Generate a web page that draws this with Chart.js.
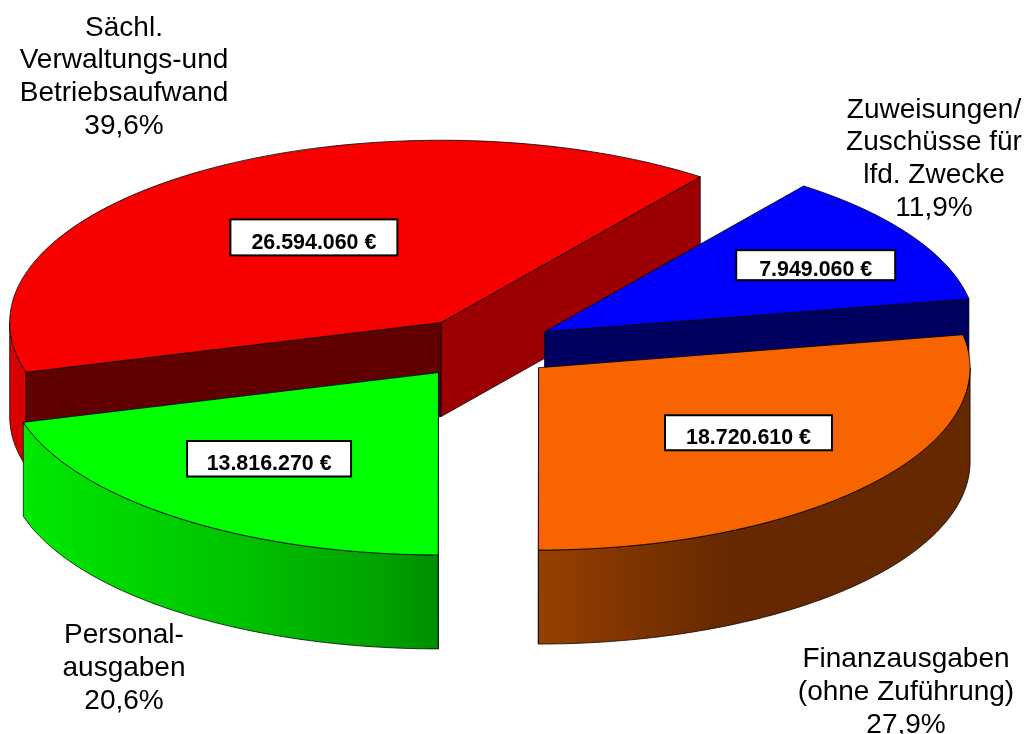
<!DOCTYPE html>
<html lang="de">
<head>
<meta charset="utf-8">
<style>html,body{margin:0;padding:0;background:#fff}canvas{display:block}</style>
<script src="https://cdn.jsdelivr.net/npm/chart.js@4"></script>
</head>
<body>
<canvas id="c" width="1027" height="734"></canvas>
<script>
// Data (clockwise from the blue slice)
const categories = ['Zuweisungen/ Zuschüsse für lfd. Zwecke', 'Finanzausgaben (ohne Zuführung)', 'Personalausgaben', 'Sächl. Verwaltungs-und Betriebsaufwand'];
const values = [7949060, 18720610, 13816270, 26594060];
const valueLabels = ['7.949.060 €', '18.720.610 €', '13.816.270 €', '26.594.060 €'];
const outerLabels = [
  ['Zuweisungen/', 'Zuschüsse für', 'lfd. Zwecke', '11,9%'],
  ['Finanzausgaben', '(ohne Zuführung)', '27,9%'],
  ['Personal-', 'ausgaben', '20,6%'],
  ['Sächl.', 'Verwaltungs-und', 'Betriebsaufwand', '39,6%']
];
const topColors = ['#0000ff', '#f86400', '#00ff00', '#f80000'];
const startEdgeColors = ['#000060', '#652800', '#009000', '#600000'];
const endEdgeColors = ['#000060', '#652800', '#009000', '#9c0000'];
const wallStops = [
  [[0, '#000060'], [1, '#000060']],
  [[0, '#964000'], [0.45, '#652800'], [1, '#652800']],
  [[0, '#00e800'], [0.5, '#00c400'], [0.85, '#00a400'], [1, '#008c00']],
  [[0, '#d80000'], [1, '#d80000']]
];

// Picture geometry
const SQUASH = 0.4225, DEPTH = 94, EXPLODE = 73, RADIUS = 431.5;
const labelReach = [0.72, 0.6, 0.62, 0.55];
const labelNudge = [[7, 2.5], [11, -5], [-8, -4], [7, -2.5]];
const boxWidths = [159, 167, 164, 167];
const boxHeights = [30, 35, 35.5, 36];
const outerLabelAnchors = [[934, 117.7], [906, 667.3], [124, 643.3], [124, 35.7]];
const LINE = 32.6;
const wallOrder = [3, 0, 1, 2];

function cyOf(chart){ return (chart.chartArea.top + chart.chartArea.bottom) / 2; }
function sy(chart, y){ const c = cyOf(chart); return c + (y - c) * SQUASH; }

function wallPath(ctx, chart, arc, a, b){
  const {x, y, outerRadius: R} = arc;
  const steps = Math.max(2, Math.ceil((b - a) * 60));
  ctx.beginPath();
  for (let i = 0; i <= steps; i++){
    const t = a + (b - a) * i / steps;
    ctx.lineTo(x + R * Math.cos(t), sy(chart, y + R * Math.sin(t)));
  }
  for (let i = steps; i >= 0; i--){
    const t = a + (b - a) * i / steps;
    ctx.lineTo(x + R * Math.cos(t), sy(chart, y + R * Math.sin(t)) + DEPTH);
  }
  ctx.closePath();
}
function edgeWall(ctx, chart, arc, t, color){
  const {x, y, outerRadius: R} = arc;
  const ax = x, ay = sy(chart, y), bx = x + R * Math.cos(t), by = sy(chart, y + R * Math.sin(t));
  ctx.beginPath();
  ctx.moveTo(ax, ay); ctx.lineTo(bx, by); ctx.lineTo(bx, by + DEPTH); ctx.lineTo(ax, ay + DEPTH); ctx.closePath();
  ctx.fillStyle = color; ctx.fill();
  ctx.strokeStyle = 'rgba(0,0,0,.75)'; ctx.lineWidth = 1; ctx.stroke();
}
function facePath(ctx, chart, arc){
  const {x, y, outerRadius: R, startAngle: a, endAngle: b} = arc;
  const steps = Math.ceil((b - a) * 60);
  ctx.beginPath();
  ctx.moveTo(x, sy(chart, y));
  for (let i = 0; i <= steps; i++){
    const t = a + (b - a) * i / steps;
    ctx.lineTo(x + R * Math.cos(t), sy(chart, y + R * Math.sin(t)));
  }
  ctx.closePath();
}

const pie3d = {
  id: 'pie3d',
  afterDatasetUpdate(chart, args){
    // radial explosion of each slice
    chart.getDatasetMeta(args.index).data.forEach(arc => {
      const mid = (arc.startAngle + arc.endAngle) / 2;
      arc.x += Math.cos(mid) * EXPLODE;
      arc.y += Math.sin(mid) * EXPLODE;
    });
  },
  beforeDatasetsDraw(chart){
    const ctx = chart.ctx, arcs = chart.getDatasetMeta(0).data;
    ctx.save();
    ctx.lineJoin = 'round';
    wallOrder.forEach(i => {
      const arc = arcs[i];
      const a = arc.startAngle, b = arc.endAngle;
      if (Math.cos(a) < 0.001) edgeWall(ctx, chart, arc, a, startEdgeColors[i]);
      if (Math.cos(b) > -0.001) edgeWall(ctx, chart, arc, b, endEdgeColors[i]);
      const lo = Math.max(a, 0), hi = Math.min(b, Math.PI);
      if (hi > lo){
        const x0 = arc.x + arc.outerRadius * Math.cos(hi), x1 = arc.x + arc.outerRadius * Math.cos(lo);
        const left = Math.min(x0, x1), right = Math.max(x0, x1);
        const g = ctx.createLinearGradient(i === 1 ? arc.x : left, 0, right, 0);
        wallStops[i].forEach(s => g.addColorStop(s[0], s[1]));
        wallPath(ctx, chart, arc, lo, hi);
        ctx.fillStyle = g; ctx.fill();
        ctx.strokeStyle = 'rgba(0,0,0,.75)'; ctx.lineWidth = 1; ctx.stroke();
      }
    });
    ctx.restore();
  },
  beforeDatasetDraw(chart){
    const ctx = chart.ctx, c = cyOf(chart);
    ctx.save();
    ctx.translate(0, c); ctx.scale(1, SQUASH); ctx.translate(0, -c);
  },
  afterDatasetDraw(chart, args){
    const ctx = chart.ctx;
    ctx.restore();
    ctx.save();
    ctx.lineJoin = 'round';
    ctx.strokeStyle = 'rgba(0,0,0,.8)'; ctx.lineWidth = 1;
    args.meta.data.forEach(arc => { facePath(ctx, chart, arc); ctx.stroke(); });
    ctx.restore();
  },
  afterDatasetsDraw(chart){
    const ctx = chart.ctx, arcs = chart.getDatasetMeta(0).data;
    ctx.save();
    ctx.textAlign = 'center'; ctx.textBaseline = 'alphabetic';
    ctx.font = 'bold 21.4px "Liberation Sans", Arial, sans-serif';
    arcs.forEach((arc, i) => {
      const mid = (arc.startAngle + arc.endAngle) / 2, r = arc.outerRadius * labelReach[i];
      const cx = arc.x + Math.cos(mid) * r + labelNudge[i][0], cy = sy(chart, arc.y + Math.sin(mid) * r) + labelNudge[i][1];
      const w = boxWidths[i], h = boxHeights[i];
      ctx.fillStyle = '#fff'; ctx.strokeStyle = '#000'; ctx.lineWidth = 2;
      ctx.fillRect(cx - w / 2, cy - h / 2, w, h);
      ctx.strokeRect(cx - w / 2, cy - h / 2, w, h);
      ctx.fillStyle = '#000';
      ctx.fillText(valueLabels[i], cx, cy + 11.3);
    });
    ctx.font = '28px "Liberation Sans", Arial, sans-serif';
    ctx.fillStyle = '#000';
    outerLabels.forEach((lines, i) => {
      lines.forEach((line, j) => ctx.fillText(line, outerLabelAnchors[i][0], outerLabelAnchors[i][1] + j * LINE));
    });
    ctx.restore();
  }
};

new Chart(document.getElementById('c'), {
  type: 'pie',
  data: {
    labels: categories,
    datasets: [{ data: values, backgroundColor: topColors, borderWidth: 0, clip: false }]
  },
  options: {
    responsive: false,
    animation: false,
    rotation: 36.9,
    radius: RADIUS,
    layout: { padding: { right: 62, bottom: 38 } },
    plugins: { legend: { display: false }, title: { display: false }, tooltip: { enabled: false } }
  },
  plugins: [pie3d]
});
</script>
</body>
</html>
